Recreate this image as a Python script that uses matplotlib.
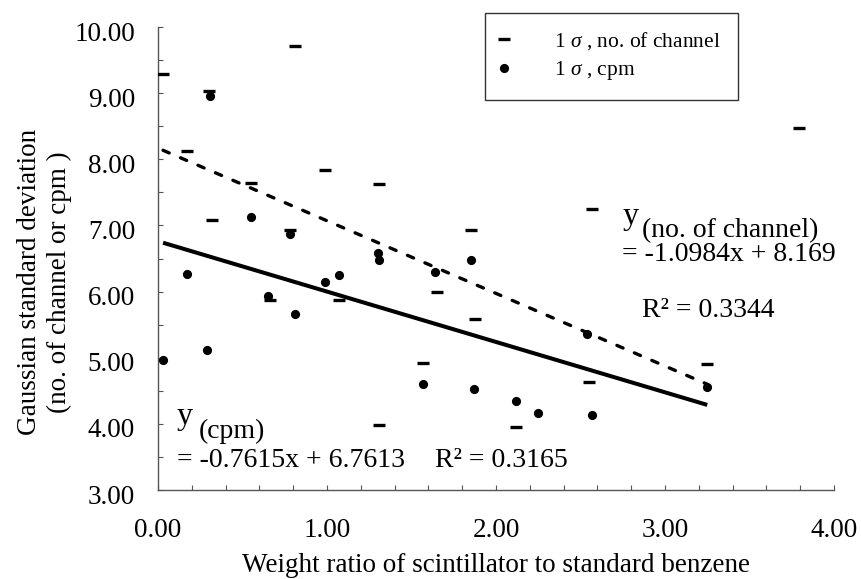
import matplotlib
matplotlib.use("Agg")
import matplotlib.pyplot as plt
from matplotlib.ticker import MultipleLocator, FormatStrFormatter
from matplotlib.lines import Line2D
from matplotlib.transforms import ScaledTranslation
import numpy as np

plt.rcParams['font.family'] = ['Liberation Serif', 'DejaVu Serif']
plt.rcParams['mathtext.fontset'] = 'custom'
plt.rcParams['mathtext.rm'] = 'Liberation Serif'
plt.rcParams['mathtext.it'] = 'Liberation Serif:italic'
plt.rcParams['mathtext.bf'] = 'Liberation Serif:bold'

# ---- data ----
channel_x = [0.03, 0.17, 0.30, 0.32, 0.55, 0.66, 0.78, 0.81, 0.99, 1.07, 1.31,
             1.31, 1.57, 1.65, 1.85, 1.875, 2.12, 2.55, 2.57, 3.25, 3.79]
channel_y = [9.29, 8.12, 9.03, 7.08, 7.64, 5.88, 6.93, 9.71, 7.84, 5.87, 7.63,
             3.98, 4.92, 6.00, 6.93, 5.59, 3.96, 4.64, 7.25, 4.90, 8.48]
cpm_x = [0.03, 0.17, 0.29, 0.31, 0.55, 0.65, 0.78, 0.81, 0.99, 1.07, 1.30,
         1.31, 1.57, 1.64, 1.85, 1.87, 2.12, 2.25, 2.54, 2.57, 3.25]
cpm_y = [4.96, 6.26, 5.12, 8.96, 7.13, 5.93, 6.87, 5.66, 6.15, 6.25, 6.59,
         6.48, 4.61, 6.29, 6.48, 4.53, 4.34, 4.17, 5.36, 4.13, 4.55]

fit_channel = [-1.0984, 8.169]   # slope, intercept
r2_channel = 0.3344
fit_cpm = [-0.7615, 6.7613]
r2_cpm = 0.3165

x_ticks = [0, 1, 2, 3, 4]
y_ticks = [3, 4, 5, 6, 7, 8, 9, 10]
legend_labels = [r"1 $\sigma$ , no. of channel", r"1 $\sigma$ , cpm"]
x_title = "Weight ratio of scintillator to standard benzene"
y_title = "Gaussian standard deviation\n(no. of channel or cpm )"

# ---- figure ----
W, H = 861, 579
fig = plt.figure(figsize=(W / 100, H / 100), dpi=100)
L, R, T, B = 158, 834, 27, 490
ax = fig.add_axes([L / W, 1 - B / H, (R - L) / W, (B - T) / H])

def ax_xy(px, py):
    return (px - L) / (R - L), (B - py) / (B - T)

trend_x = np.array([min(cpm_x), max(cpm_x)])
ax.plot(trend_x, fit_channel[0] * trend_x + fit_channel[1], color='black',
        lw=2.4, linestyle=(0, (2.0, 3.7)), dash_capstyle='round', zorder=2)
ax.plot(trend_x, fit_cpm[0] * trend_x + fit_cpm[1], color='black',
        lw=2.9, solid_capstyle='butt', zorder=2)

ax.plot(channel_x, channel_y, linestyle='none', marker='_', markersize=8.4,
        markeredgewidth=2.4, color='black', zorder=3)
ax.plot(cpm_x, cpm_y, linestyle='none', marker='o', markersize=6.6,
        color='black', markeredgewidth=0, zorder=3)

ax.set_xlim(x_ticks[0], x_ticks[-1])
ax.set_ylim(y_ticks[0], y_ticks[-1])
ax.set_xticks(x_ticks)
ax.set_yticks(y_ticks)
ax.xaxis.set_minor_locator(MultipleLocator(0.2))
ax.yaxis.set_minor_locator(MultipleLocator(0.5))
ax.xaxis.set_major_formatter(FormatStrFormatter('%.2f'))
ax.yaxis.set_major_formatter(FormatStrFormatter('%.2f'))

spine_col = '#555555'
for s in ['top', 'right']:
    ax.spines[s].set_visible(False)
for s in ['left', 'bottom']:
    ax.spines[s].set_color(spine_col)
    ax.spines[s].set_linewidth(1.0)

ax.tick_params(axis='both', which='both', direction='in', length=3.5,
               width=0.8, color=spine_col, labelsize=19.5)
ax.tick_params(axis='x', which='major', pad=20)
ax.tick_params(axis='y', which='major', pad=16.5)

# y tick labels sit a few pixels below their ticks in the reference
shift = ScaledTranslation(0, -4 / 100, fig.dpi_scale_trans)
for tick in ax.yaxis.get_major_ticks():
    tick.label1.set_transform(tick.label1.get_transform() + shift)

ax.set_xlabel(x_title, fontsize=19.5)
ax.xaxis.set_label_coords(0.5, (B - 553) / (B - T))
ax.set_ylabel(y_title, fontsize=19.5, linespacing=1.25)
ax.yaxis.set_label_coords((72 - L) / (R - L), (B - 282) / (B - T))

# ---- equation annotations ----
eq_fs = 20
tx, ty = ax_xy(623, 224)
yt = ax.text(tx, ty, "y", fontsize=23, transform=ax.transAxes, va='baseline', ha='left')
ax.annotate("(no. of channel)", xy=(1, 0), xycoords=yt, xytext=(3, -6),
            textcoords='offset pixels', fontsize=eq_fs, va='baseline', ha='left')
tx, ty = ax_xy(622, 261)
ax.text(tx, ty, "= %.4fx + %.3f" % (fit_channel[0], fit_channel[1]),
        fontsize=eq_fs, transform=ax.transAxes, va='baseline', ha='left')
tx, ty = ax_xy(642, 317)
ax.text(tx, ty, "R² = %.4f" % r2_channel, fontsize=eq_fs,
        transform=ax.transAxes, va='baseline', ha='left')

tx, ty = ax_xy(177, 424)
yt2 = ax.text(tx, ty, "y", fontsize=23, transform=ax.transAxes, va='baseline', ha='left')
ax.annotate("(cpm)", xy=(1, 0), xycoords=yt2, xytext=(6, -7),
            textcoords='offset pixels', fontsize=eq_fs, va='baseline', ha='left')
tx, ty = ax_xy(177, 467)
ax.text(tx, ty, "= %.4fx + %.4f" % (fit_cpm[0], fit_cpm[1]),
        fontsize=eq_fs, transform=ax.transAxes, va='baseline', ha='left')
tx, ty = ax_xy(435, 467)
ax.text(tx, ty, "R² = %.4f" % r2_cpm, fontsize=eq_fs,
        transform=ax.transAxes, va='baseline', ha='left')

# ---- legend ----
handles = [
    Line2D([], [], linestyle='none', marker='_', markersize=8.4,
           markeredgewidth=2.4, color='black'),
    Line2D([], [], linestyle='none', marker='o', markersize=6.6,
           markeredgewidth=0, color='black'),
]
leg = ax.legend(handles, legend_labels, loc='upper left',
                bbox_to_anchor=(485 / W, 1 - 13 / H), bbox_transform=fig.transFigure,
                fontsize=15.5, frameon=True, fancybox=False, framealpha=1,
                edgecolor='#333333', borderpad=0.8, handlelength=0.2,
                handletextpad=2.2, labelspacing=0.34, borderaxespad=0,
                numpoints=1)
leg.get_frame().set_linewidth(1.0)

fig.savefig("out.png", dpi=100)
